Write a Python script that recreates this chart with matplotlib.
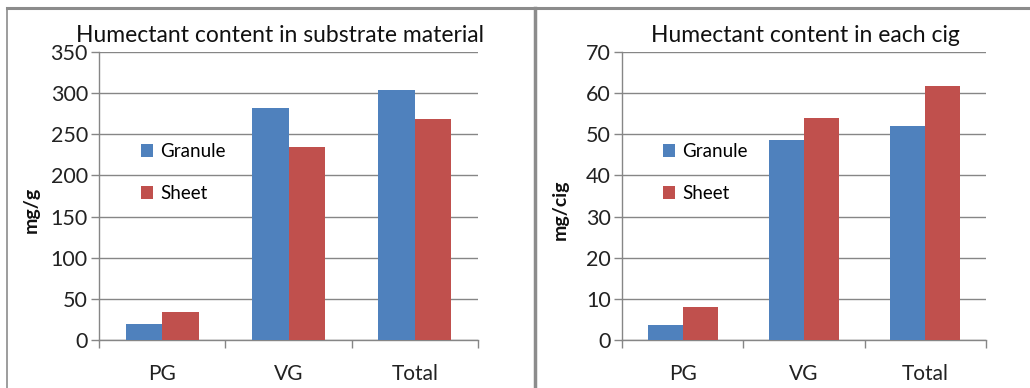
import matplotlib
matplotlib.use("Agg")
import matplotlib.pyplot as plt
import numpy as np
from matplotlib.lines import Line2D
from matplotlib.patches import Patch

categories = ["PG", "VG", "Total"]
series_names = ["Granule", "Sheet"]
left_granule = [20, 282, 304]
left_sheet = [34, 234, 268]
right_granule = [3.6, 48.7, 52.1]
right_sheet = [7.9, 53.9, 61.7]
left_title = "Humectant content in substrate material"
right_title = "Humectant content in each cig"
left_ylabel = "mg/g"
right_ylabel = "mg/cig"
left_yticks = [0, 50, 100, 150, 200, 250, 300, 350]
right_yticks = [0, 10, 20, 30, 40, 50, 60, 70]

BLUE = "#4F81BD"
RED = "#C0504D"
GRID = "#868686"
FONT = "Lato"

plt.rcParams['font.family'] = [FONT, 'DejaVu Sans']

W, H = 1030, 388
fig = plt.figure(figsize=(W / 100, H / 100), dpi=100)


def px(x0, y_top, x1, y_bot):
    return [x0 / W, 1 - y_bot / H, (x1 - x0) / W, (y_bot - y_top) / H]


def draw(ax, ax_px, g, s, yticks, title, ylabel, title_x, ylab_x, leg_x):
    x = np.arange(len(categories))
    bw = 0.289
    ax.bar(x - bw / 2, g, bw, color=BLUE, zorder=3)
    ax.bar(x + bw / 2, s, bw, color=RED, zorder=3)
    ax.set_xlim(-0.5, len(categories) - 0.5)
    ax.set_ylim(yticks[0], yticks[-1])
    ax.set_yticks(yticks)
    ax.set_yticklabels([str(v) for v in yticks], fontsize=15.5, color="#222222")
    ax.yaxis.grid(True, color=GRID, lw=1.0, zorder=0)
    ax.set_axisbelow(True)
    ax.set_xticks(x)
    ax.set_xticklabels(categories, fontsize=15, color="#222222")
    ax.set_xticks(np.arange(-0.5, len(categories)), minor=True)
    ax.tick_params(axis="x", which="major", length=0, pad=17)
    ax.tick_params(axis="x", which="minor", length=6, color=GRID, width=1)
    ax.tick_params(axis="y", length=6, color=GRID, width=1, pad=2)
    for side in ["top", "right"]:
        ax.spines[side].set_visible(False)
    for side in ["left", "bottom"]:
        ax.spines[side].set_color(GRID)
        ax.spines[side].set_linewidth(1)
    fig.text(title_x / W, 1 - 35 / H, title, ha="center", va="center",
             fontsize=16.5, color="#111111")
    fig.text(ylab_x / W, 1 - 210 / H, ylabel, ha="center", va="center",
             rotation=90, fontsize=14, fontweight="bold", color="#111111")
    handles = [Patch(facecolor=BLUE), Patch(facecolor=RED)]
    ax.legend(handles, series_names, loc="upper left",
              bbox_to_anchor=((leg_x - ax_px[0]) / (ax_px[1] - ax_px[0]), 0.71),
              frameon=False, fontsize=13.5, handlelength=0.65, handleheight=0.7,
              handletextpad=0.4, labelspacing=1.35, borderaxespad=0)


lp = (99, 478)
ax1 = fig.add_axes(px(lp[0], 52, lp[1], 340))
draw(ax1, lp, left_granule, left_sheet, left_yticks, left_title, left_ylabel, 280, 31, 133)

rp = (622, 986)
ax2 = fig.add_axes(px(rp[0], 52, rp[1], 340))
draw(ax2, rp, right_granule, right_sheet, right_yticks, right_title, right_ylabel, 805, 560, 655)

# outer frame lines
FR = "#8C8C8C"
fig.add_artist(Line2D([7 / W, 1], [1 - 8 / H, 1 - 8 / H], color=FR, lw=2.2,
                      transform=fig.transFigure))
fig.add_artist(Line2D([7 / W, 7 / W], [0, 1 - 8 / H], color=FR, lw=1.2,
                      transform=fig.transFigure))
fig.add_artist(Line2D([535 / W, 535 / W], [0, 1 - 8 / H], color=FR, lw=2.5,
                      transform=fig.transFigure))

fig.savefig("out.png", dpi=100)
